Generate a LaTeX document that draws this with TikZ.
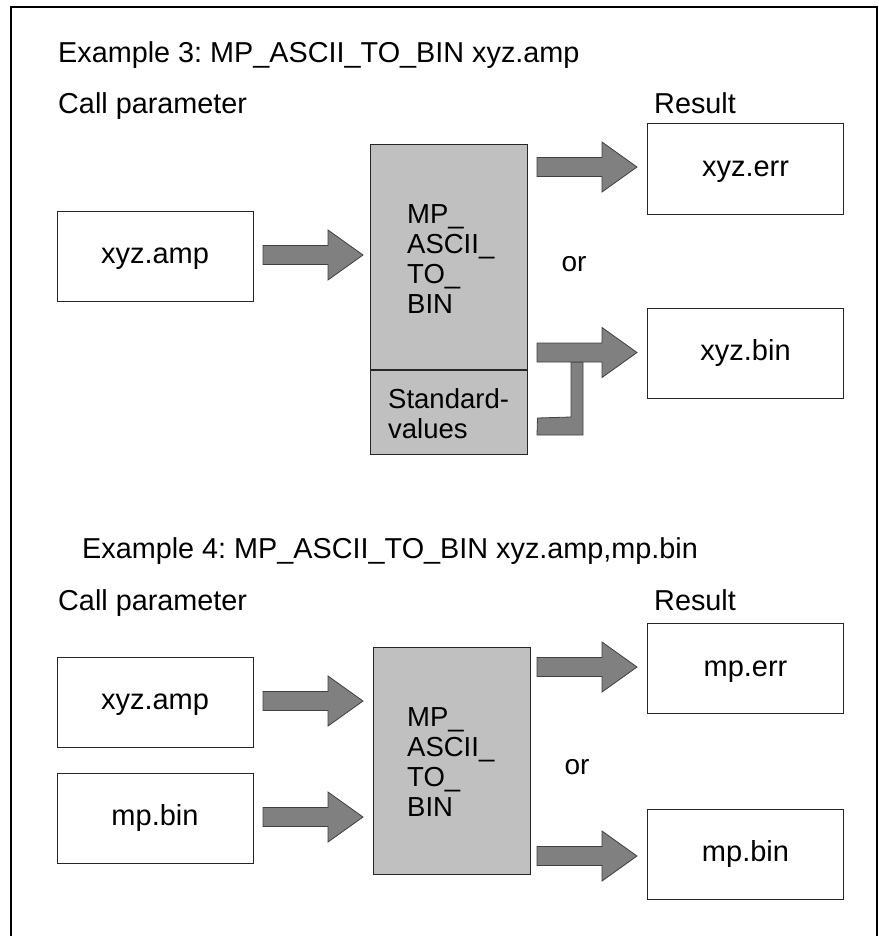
\documentclass[tikz,border=0pt]{standalone}
\usepackage{fontspec}
\setmainfont{Liberation Sans}
\usetikzlibrary{calc}
\frenchspacing
\definecolor{procgray}{HTML}{C0C0C0}
\definecolor{arrowgray}{HTML}{808080}
\definecolor{edgegray}{HTML}{404040}
\tikzset{
  lbl/.style={anchor=base west, inner sep=0pt, font=\fontsize{28.8}{34}\selectfont},
  filebox/.style={draw=black!85, line width=1pt, fill=white, minimum width=196pt, minimum height=90pt, inner sep=0pt,
    text height=22pt, text depth=7pt, font=\fontsize{29}{32}\selectfont},
  procbox/.style={draw=black!85, line width=1pt, fill=procgray, inner sep=0pt},
  boxtext/.style={anchor=west, inner sep=0pt, align=left, font=\fontsize{27.5}{30}\selectfont},
  ortext/.style={inner sep=0pt, font=\fontsize{28}{30}\selectfont},
  barrow/.style={draw=edgegray, line width=0.8pt, fill=arrowgray, line join=miter},
  frameline/.style={draw=black, line width=1.5pt}
}
% block arrow: #1 tail centre, #2 tip
\newcommand\blockarrow[2]{%
  \path[barrow] let \p1=#1, \p2=#2 in
    (\x1,\y1+9.5pt) -- (\x2-35pt,\y1+9.5pt) -- (\x2-35pt,\y1+25pt) -- (\x2,\y1)
    -- (\x2-35pt,\y1-25pt) -- (\x2-35pt,\y1-9.5pt) -- (\x1,\y1-9.5pt) -- cycle;}
\begin{document}
\begin{tikzpicture}[x=1pt,y=-1pt]
\useasboundingbox (0,0) rectangle (878,936);
% frame (open at the bottom)
\draw[frameline] (11,940) -- (11,7) -- (877,7) -- (877,940);

% ---------- Example 3 ----------
\node[lbl] (t3) at (58,63) {Example 3: MP\_ASCII\_TO\_BIN xyz.amp};
\node[lbl] (cp3) at (58,114) {Call parameter};
\node[lbl] (res3) at (654,114) {Result};

\node[filebox] (amp3) at (155,256) {xyz.amp};
\node[procbox, minimum width=157pt, minimum height=224pt] (proc3) at (448.5,257) {};
\node[procbox, minimum width=157pt, minimum height=84pt, anchor=north] (std3) at (proc3.south) {};
\node[boxtext] (proc3t) at (407,259) {MP\_\\ASCII\_\\TO\_\\BIN};
\node[boxtext] (std3t) at (388,414) {Standard-\\values};
\node[filebox] (err3) at (745.5,169) {xyz.err};
\node[filebox] (bin3) at (745.5,353) {xyz.bin};
\node[ortext] (or3) at (574,264) {or};

\coordinate (a3s) at (263,255);
\coordinate (a3e) at (363,255);
\blockarrow{(a3s)}{(a3e)}
\coordinate (e3s) at (537,167);
\coordinate (e3e) at (637,167);
\blockarrow{(e3s)}{(e3e)}
% L-shaped feed from the standard values
\path[barrow] ($(std3.east)+(10,6)$) coordinate (l1) -- (571,417) -- (571,362) -- (583,362) -- (583,435) -- (537,435) -- cycle;
\coordinate (b3s) at (537,352.5);
\coordinate (b3e) at (637,352.5);
\blockarrow{(b3s)}{(b3e)}

% ---------- Example 4 ----------
\node[lbl] (t4) at (82,558) {Example 4: MP\_ASCII\_TO\_BIN xyz.amp,mp.bin};
\node[lbl] (cp4) at (58,610) {Call parameter};
\node[lbl] (res4) at (654,610) {Result};

\node[filebox] (amp4) at (155,702) {xyz.amp};
\node[filebox] (mpb4) at (155,818) {mp.bin};
\node[procbox, minimum width=157pt, minimum height=227pt] (proc4) at (451.5,760.5) {};
\node[boxtext] (proc4t) at (407,762) {MP\_\\ASCII\_\\TO\_\\BIN};
\node[filebox] (err4) at (745.5,668.5) {mp.err};
\node[filebox] (bin4) at (745.5,854) {mp.bin};
\node[ortext] (or4) at (577,767) {or};

\coordinate (a4s) at (263,701);
\coordinate (a4e) at (363,701);
\blockarrow{(a4s)}{(a4e)}
\coordinate (m4s) at (263,817);
\coordinate (m4e) at (363,817);
\blockarrow{(m4s)}{(m4e)}
\coordinate (e4s) at (537,667);
\coordinate (e4e) at (637,667);
\blockarrow{(e4s)}{(e4e)}
\coordinate (b4s) at (537,856);
\coordinate (b4e) at (637,856);
\blockarrow{(b4s)}{(b4e)}
\end{tikzpicture}
\end{document}
